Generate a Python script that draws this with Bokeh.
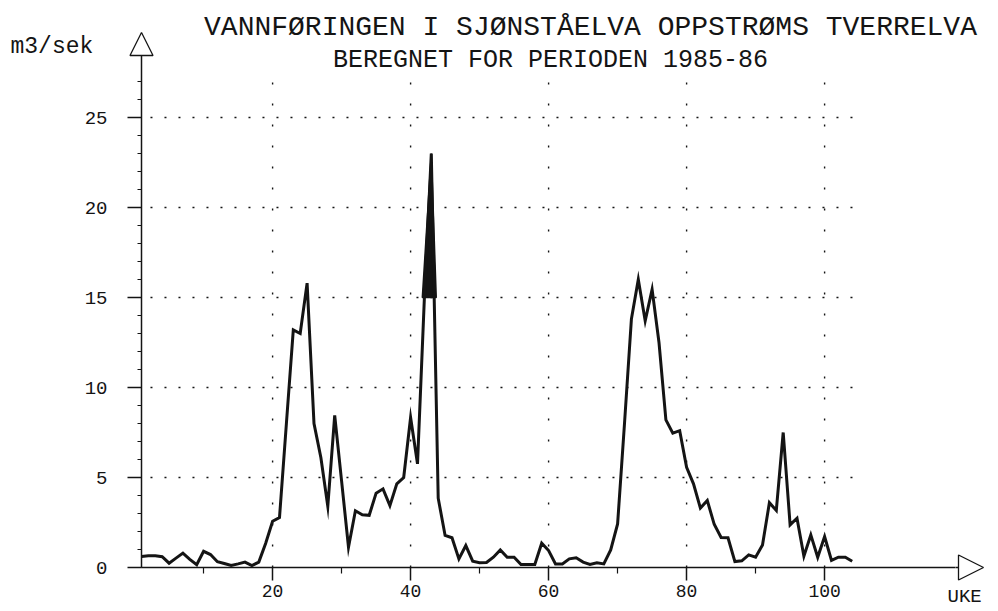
import numpy as np
from bokeh.plotting import figure
from bokeh.models import Range1d, FixedTicker, Label, Arrow, NormalHead
from bokeh.embed import file_html
from bokeh.resources import INLINE

# ---------------- data ----------------
weeks = list(range(1, 105))
flow = [0.61, 0.65, 0.65, 0.60, 0.24, 0.52, 0.80, 0.45, 0.15, 0.90,
        0.72, 0.32, 0.22, 0.11, 0.20, 0.30, 0.11, 0.30, 1.35, 2.57,
        2.78, 8.00, 13.20, 13.00, 15.80, 8.00, 6.10, 3.40, 8.45, 4.80,
        1.13, 3.15, 2.93, 2.90, 4.13, 4.37, 3.44, 4.65, 5.00, 8.33,
        5.76, 15.00, 23.00, 3.85, 1.78, 1.65, 0.48, 1.22, 0.35, 0.26,
        0.28, 0.57, 0.98, 0.57, 0.57, 0.17, 0.17, 0.17, 1.35, 0.94,
        0.20, 0.20, 0.48, 0.54, 0.30, 0.17, 0.26, 0.20, 0.98, 2.42,
        8.00, 13.80, 16.00, 13.70, 15.45, 12.50, 8.20, 7.46, 7.60, 5.57,
        4.65, 3.30, 3.72, 2.40, 1.67, 1.65, 0.33, 0.37, 0.70, 0.57,
        1.25, 3.60, 3.17, 7.50, 2.37, 2.74, 0.63, 1.81, 0.57, 1.72,
        0.39, 0.57, 0.57, 0.35]
x_ticks = [20, 40, 60, 80, 100]
x_minor_ticks = [10, 30, 50, 70, 90]
y_ticks = [0, 5, 10, 15, 20, 25]
y_minor_ticks = list(range(0, 28))
fill_threshold = 15
title_text = "VANNFØRINGEN I SJØNSTÅELVA OPPSTRØMS TVERRELVA"
subtitle_text = "BEREGNET FOR PERIODEN 1985-86"
y_unit = "m3/sek"
x_unit = "UKE"

# ---------------- layout constants ----------------
FONT = "Liberation Mono"
INK = "#141414"
W, H = 998, 611
PX, PY = 6.9, 18.0          # pixels per week, pixels per m3/s
AX_X, AX_Y = 141, 567       # pixel position of (week 1, 0 m3/s)
XA0, XA1 = 1, 119           # drawn extent of the week axis
YA0, YA1 = 0, 28.556        # drawn extent of the flow axis

def fx(px):
    return 1 + (px - AX_X) / PX

def fy(py):
    return (AX_Y - py) / PY

p = figure(width=W, height=H,
           min_border_left=0, min_border_right=0,
           min_border_top=0, min_border_bottom=0,
           x_range=Range1d(fx(0), fx(W)), y_range=Range1d(fy(H), fy(0)),
           output_backend="svg", toolbar_location=None,
           background_fill_color="white", border_fill_color="white")
p.outline_line_color = None
p.xgrid.visible = False
p.ygrid.visible = False

# axes drawn at fixed positions inside the canvas
xa = p.xaxis[0]
xa.fixed_location = 0
xa.bounds = (XA0, XA1)
xa.ticker = FixedTicker(ticks=x_ticks, minor_ticks=x_minor_ticks)
xa.axis_line_color = INK
xa.axis_line_width = 1.5
xa.major_tick_line_color = INK
xa.major_tick_line_width = 1.5
xa.major_tick_out = 13
xa.major_tick_in = 0
xa.minor_tick_line_color = INK
xa.minor_tick_line_width = 1.2
xa.minor_tick_out = 6
xa.minor_tick_in = 0
xa.major_label_text_font = FONT
xa.major_label_text_font_size = "18px"
xa.major_label_text_color = INK
xa.major_label_standoff = 4

ya = p.yaxis[0]
ya.fixed_location = 1
ya.bounds = (YA0, YA1)
ya.ticker = FixedTicker(ticks=y_ticks, minor_ticks=y_minor_ticks)
ya.axis_line_color = INK
ya.axis_line_width = 1.5
ya.major_tick_line_color = INK
ya.major_tick_line_width = 1.5
ya.major_tick_out = 14
ya.major_tick_in = 0
ya.minor_tick_line_color = INK
ya.minor_tick_line_width = 1.0
ya.minor_tick_out = 4
ya.minor_tick_in = 0
ya.major_label_text_font = FONT
ya.major_label_text_font_size = "19px"
ya.major_label_text_color = INK
ya.major_label_standoff = 20

# dotted grid
gx_lo, gx_hi = 2.3, 105.2
gy_hi = 27.8
hy = [t for t in y_ticks if t > 0]
p.segment(x0=[gx_lo] * len(hy), y0=hy, x1=[gx_hi] * len(hy), y1=hy,
          line_color=INK, line_width=1.4, line_dash="2 12")
p.segment(x0=x_ticks, y0=[0] * len(x_ticks), x1=x_ticks, y1=[gy_hi] * len(x_ticks),
          line_color=INK, line_width=1.4, line_dash="2 19")

# filled spike above the threshold around the highest peak
arr = np.array(flow)
ipk = int(np.argmax(arr))
jl = ipk
while jl > 0 and arr[jl] > fill_threshold:
    jl -= 1
jr = ipk
while jr < len(arr) - 1 and arr[jr] > fill_threshold:
    jr += 1
def cross(a, b):
    va, vb = arr[a], arr[b]
    return weeks[a] + (fill_threshold - va) / (vb - va) * (weeks[b] - weeks[a])
px_fill = [float(cross(jl, jl + 1)) - 0.3] + weeks[jl + 1:jr] + [float(cross(jr - 1, jr)) + 0.3]
py_fill = [fill_threshold] + flow[jl + 1:jr] + [fill_threshold]
p.patch(px_fill, py_fill, fill_color=INK, line_color=INK, line_width=1.5)

# flow curve
p.line(weeks, flow, line_color=INK, line_width=3.0, line_join="miter")

# axis arrow heads
p.add_layout(Arrow(end=NormalHead(size=25, fill_color="white", line_color=INK, line_width=1.3),
                   x_start=XA1, y_start=0, x_end=fx(983), y_end=0,
                   line_color=INK, line_width=1.5))
p.add_layout(Arrow(end=NormalHead(size=23, fill_color="white", line_color=INK, line_width=1.3),
                   x_start=1, y_start=YA1, x_end=1, y_end=fy(32),
                   line_color=INK, line_width=1.5))

p.add_layout(Label(x=fx(590), y=fy(27), text=title_text, text_font=FONT,
                   text_font_size="28px", text_color=INK,
                   text_align="center", text_baseline="middle"))
p.add_layout(Label(x=fx(550), y=fy(60), text=subtitle_text, text_font=FONT,
                   text_font_size="25px", text_color=INK,
                   text_align="center", text_baseline="middle"))
p.add_layout(Label(x=fx(10), y=fy(46), text=y_unit, text_font=FONT,
                   text_font_size="23px", text_color=INK,
                   text_align="left", text_baseline="middle"))
p.add_layout(Label(x=fx(947), y=fy(596), text=x_unit, text_font=FONT,
                   text_font_size="19px", text_color=INK,
                   text_align="left", text_baseline="middle"))

open("out.html", "w").write(file_html(p, INLINE))
